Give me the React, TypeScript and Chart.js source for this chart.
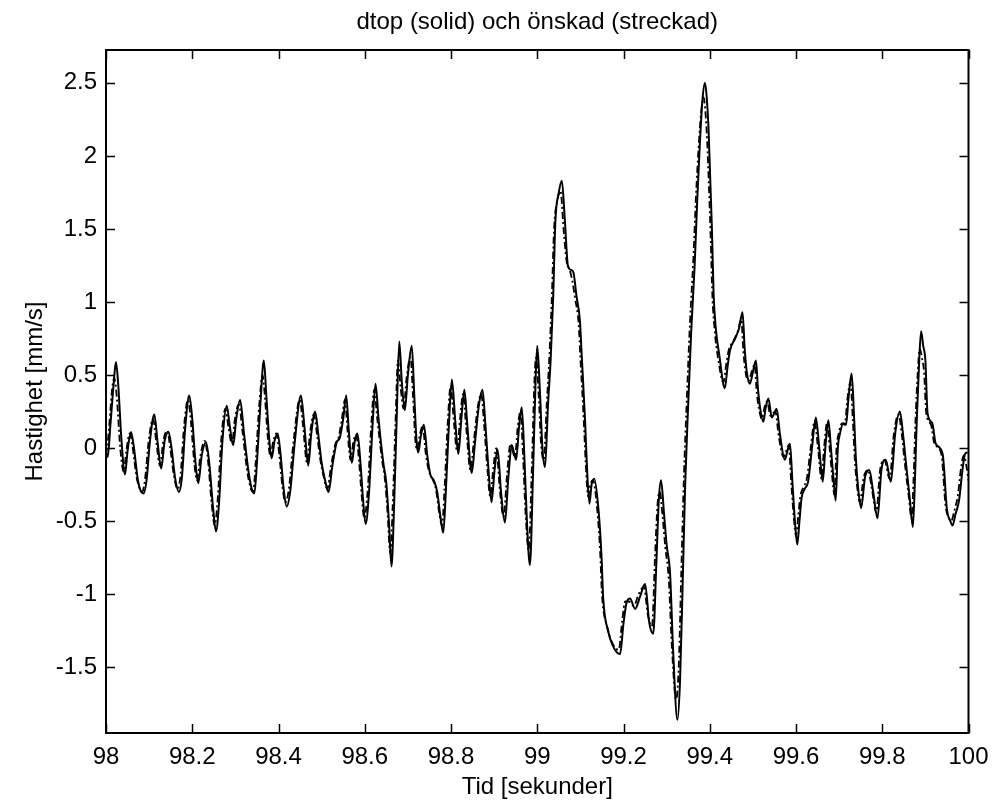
import React, { useEffect, useRef } from "react";
import { Chart, registerables } from "chart.js";

Chart.register(...registerables);

// ---------- data ----------
const solidTime = [
  98.000, 98.004, 98.010, 98.018, 98.023, 98.028, 98.036, 98.044, 98.050, 98.058,
  98.064, 98.074, 98.080, 98.087, 98.094, 98.102, 98.112, 98.120, 98.128, 98.136,
  98.145, 98.152, 98.160, 98.169, 98.176, 98.184, 98.193, 98.200, 98.207, 98.214,
  98.222, 98.232, 98.240, 98.248, 98.255, 98.262, 98.270, 98.280, 98.287, 98.295,
  98.302, 98.311, 98.320, 98.330, 98.338, 98.344, 98.350, 98.358, 98.366, 98.372,
  98.378, 98.384, 98.391, 98.398, 98.405, 98.412, 98.419, 98.427, 98.438, 98.452,
  98.460, 98.469, 98.476, 98.485, 98.492, 98.500, 98.508, 98.516, 98.525, 98.535,
  98.542, 98.550, 98.557, 98.563, 98.570, 98.577, 98.583, 98.590, 98.596, 98.602,
  98.610, 98.618, 98.625, 98.632, 98.643, 98.650, 98.656, 98.662, 98.668, 98.674,
  98.680, 98.686, 98.693, 98.700, 98.709, 98.715, 98.720, 98.724, 98.730, 98.737,
  98.745, 98.752, 98.760, 98.768, 98.776, 98.782, 98.788, 98.795, 98.802, 98.810,
  98.817, 98.824, 98.831, 98.838, 98.848, 98.856, 98.865, 98.873, 98.880, 98.887,
  98.894, 98.901, 98.908, 98.916, 98.925, 98.933, 98.941, 98.946, 98.951, 98.958,
  98.964, 98.970, 98.976, 98.983, 98.990, 98.996, 99.000, 99.006, 99.012, 99.018,
  99.025, 99.031, 99.037, 99.042, 99.050, 99.057, 99.064, 99.071, 99.078, 99.084,
  99.091, 99.099, 99.103, 99.111, 99.115, 99.121, 99.126, 99.132, 99.142, 99.149,
  99.153, 99.165, 99.175, 99.185, 99.192, 99.200, 99.207, 99.215, 99.227, 99.238,
  99.250, 99.260, 99.269, 99.276, 99.282, 99.287, 99.294, 99.300, 99.308, 99.315,
  99.325, 99.331, 99.337, 99.343, 99.350, 99.357, 99.365, 99.371, 99.377, 99.383,
  99.389, 99.393, 99.397, 99.401, 99.405, 99.409, 99.414, 99.422, 99.435, 99.441,
  99.447, 99.459, 99.468, 99.476, 99.481, 99.486, 99.493, 99.500, 99.507, 99.512,
  99.517, 99.524, 99.530, 99.536, 99.544, 99.550, 99.555, 99.563, 99.574, 99.580,
  99.586, 99.592, 99.598, 99.603, 99.608, 99.613, 99.620, 99.628, 99.637, 99.646,
  99.654, 99.662, 99.668, 99.675, 99.681, 99.688, 99.692, 99.697, 99.702, 99.710,
  99.716, 99.722, 99.729, 99.735, 99.739, 99.745, 99.751, 99.760, 99.770, 99.779,
  99.789, 99.798, 99.808, 99.820, 99.830, 99.841, 99.848, 99.856, 99.864, 99.871,
  99.876, 99.880, 99.885, 99.890, 99.895, 99.900, 99.905, 99.916, 99.924, 99.940,
  99.950, 99.958, 99.963, 99.970, 99.978, 99.986, 99.992, 99.998,
];
const solidVel = [
  -0.03, -0.06, 0.15, 0.45, 0.59, 0.45, 0.05, -0.18, -0.02, 0.11,
  0.02, -0.22, -0.29, -0.31, -0.22, 0.05, 0.23, 0.03, -0.14, 0.05,
  0.11, 0.00, -0.20, -0.30, -0.20, 0.15, 0.36, 0.20, -0.08, -0.24,
  -0.05, 0.04, -0.12, -0.40, -0.57, -0.38, 0.05, 0.29, 0.15, 0.02,
  0.20, 0.33, 0.10, -0.15, -0.28, -0.31, -0.10, 0.30, 0.60, 0.35,
  0.08, -0.07, 0.05, 0.10, -0.05, -0.28, -0.40, -0.30, 0.05, 0.36,
  0.15, -0.12, 0.10, 0.25, 0.10, -0.10, -0.22, -0.30, -0.12, 0.04,
  0.07, 0.20, 0.36, 0.12, -0.10, 0.05, 0.10, -0.10, -0.35, -0.52,
  -0.30, 0.15, 0.44, 0.20, -0.10, -0.24, -0.50, -0.81, -0.40, 0.20,
  0.73, 0.45, 0.26, 0.50, 0.70, 0.35, 0.05, -0.03, 0.08, 0.16,
  -0.05, -0.18, -0.22, -0.30, -0.48, -0.58, -0.30, 0.15, 0.47, 0.18,
  -0.04, 0.20, 0.40, 0.15, -0.17, 0.05, 0.30, 0.40, 0.15, -0.15,
  -0.37, -0.15, -0.01, -0.30, -0.51, -0.20, 0.02, -0.03, -0.08, 0.15,
  0.28, -0.05, -0.50, -0.80, -0.20, 0.45, 0.70, 0.40, 0.00, -0.13,
  0.30, 0.60, 1.04, 1.55, 1.75, 1.83, 1.56, 1.25, 1.22, 1.20,
  1.04, 0.87, 0.64, 0.18, -0.11, -0.38, -0.25, -0.21, -0.42, -0.74,
  -1.03, -1.26, -1.35, -1.40, -1.41, -1.20, -1.06, -1.03, -1.10, -1.02,
  -0.93, -1.20, -1.27, -0.80, -0.35, -0.22, -0.45, -0.66, -0.86, -1.38,
  -1.86, -1.60, -0.95, -0.25, 0.30, 0.80, 1.25, 1.70, 2.08, 2.38,
  2.50, 2.40, 2.20, 1.85, 1.50, 1.05, 0.82, 0.64, 0.41, 0.55,
  0.67, 0.75, 0.82, 0.93, 0.68, 0.52, 0.44, 0.52, 0.60, 0.40,
  0.27, 0.18, 0.28, 0.34, 0.21, 0.24, 0.27, 0.09, -0.08, -0.02,
  0.03, -0.25, -0.52, -0.66, -0.50, -0.34, -0.28, -0.23, 0.00, 0.21,
  0.00, -0.23, 0.00, 0.19, 0.00, -0.25, -0.36, 0.00, 0.10, 0.17,
  0.16, 0.35, 0.51, 0.19, -0.08, -0.30, -0.41, -0.20, -0.15, -0.30,
  -0.48, -0.15, -0.08, -0.23, 0.10, 0.25, 0.10, -0.13, -0.35, -0.54,
  -0.20, 0.19, 0.55, 0.80, 0.70, 0.60, 0.24, 0.17, 0.03, -0.04,
  -0.42, -0.50, -0.53, -0.45, -0.36, -0.15, -0.04, -0.03,
];

const dashTime = [
  98.000, 98.006, 98.014, 98.019, 98.025, 98.033, 98.041, 98.047, 98.055, 98.061,
  98.071, 98.077, 98.084, 98.091, 98.099, 98.109, 98.117, 98.125, 98.133, 98.142,
  98.149, 98.157, 98.166, 98.173, 98.181, 98.190, 98.197, 98.204, 98.211, 98.219,
  98.229, 98.237, 98.245, 98.252, 98.259, 98.267, 98.277, 98.284, 98.292, 98.299,
  98.308, 98.317, 98.327, 98.335, 98.341, 98.347, 98.355, 98.363, 98.369, 98.375,
  98.381, 98.388, 98.395, 98.402, 98.409, 98.416, 98.424, 98.435, 98.449, 98.457,
  98.466, 98.473, 98.482, 98.489, 98.497, 98.505, 98.513, 98.522, 98.532, 98.539,
  98.547, 98.554, 98.560, 98.567, 98.574, 98.580, 98.587, 98.593, 98.599, 98.607,
  98.615, 98.622, 98.629, 98.640, 98.647, 98.653, 98.659, 98.665, 98.671, 98.677,
  98.683, 98.690, 98.697, 98.706, 98.712, 98.717, 98.721, 98.727, 98.734, 98.742,
  98.749, 98.757, 98.765, 98.773, 98.779, 98.785, 98.792, 98.799, 98.807, 98.814,
  98.821, 98.828, 98.835, 98.845, 98.853, 98.862, 98.870, 98.877, 98.884, 98.891,
  98.898, 98.905, 98.913, 98.922, 98.930, 98.938, 98.943, 98.948, 98.955, 98.961,
  98.967, 98.973, 98.980, 98.987, 98.993, 98.997, 99.003, 99.009, 99.015, 99.022,
  99.028, 99.034, 99.039, 99.047, 99.054, 99.061, 99.068, 99.075, 99.081, 99.088,
  99.096, 99.100, 99.108, 99.112, 99.118, 99.123, 99.129, 99.139, 99.146, 99.150,
  99.162, 99.172, 99.182, 99.189, 99.197, 99.204, 99.212, 99.224, 99.235, 99.247,
  99.257, 99.266, 99.273, 99.279, 99.284, 99.291, 99.297, 99.305, 99.312, 99.322,
  99.328, 99.334, 99.340, 99.347, 99.354, 99.362, 99.368, 99.374, 99.380, 99.386,
  99.390, 99.394, 99.398, 99.402, 99.406, 99.411, 99.419, 99.432, 99.438, 99.444,
  99.456, 99.465, 99.473, 99.478, 99.483, 99.490, 99.497, 99.504, 99.509, 99.514,
  99.521, 99.527, 99.533, 99.541, 99.547, 99.552, 99.560, 99.571, 99.577, 99.583,
  99.589, 99.595, 99.600, 99.605, 99.610, 99.617, 99.625, 99.634, 99.643, 99.651,
  99.659, 99.665, 99.672, 99.678, 99.685, 99.689, 99.694, 99.699, 99.707, 99.713,
  99.719, 99.726, 99.732, 99.736, 99.742, 99.748, 99.757, 99.767, 99.776, 99.786,
  99.795, 99.805, 99.817, 99.827, 99.838, 99.845, 99.853, 99.861, 99.868, 99.873,
  99.877, 99.882, 99.887, 99.892, 99.897, 99.902, 99.913, 99.921, 99.937, 99.947,
  99.955, 99.960, 99.967, 99.975, 99.983, 99.989, 99.995, 100.000,
];
const dashVel = [
  -0.05, 0.10, 0.40, 0.48, 0.35, 0.00, -0.16, -0.02, 0.10, 0.02,
  -0.20, -0.27, -0.30, -0.20, 0.05, 0.20, 0.03, -0.12, 0.05, 0.12,
  0.00, -0.18, -0.28, -0.18, 0.15, 0.33, 0.18, -0.08, -0.22, -0.05,
  0.05, -0.10, -0.38, -0.53, -0.35, 0.05, 0.27, 0.14, 0.03, 0.20,
  0.30, 0.10, -0.15, -0.27, -0.30, -0.10, 0.28, 0.50, 0.33, 0.08,
  -0.05, 0.05, 0.10, -0.05, -0.26, -0.37, -0.28, 0.05, 0.33, 0.15,
  -0.10, 0.10, 0.23, 0.10, -0.08, -0.20, -0.28, -0.12, 0.03, 0.07,
  0.20, 0.33, 0.12, -0.08, 0.05, 0.09, -0.10, -0.33, -0.48, -0.28,
  0.15, 0.40, 0.20, -0.08, -0.22, -0.45, -0.72, -0.38, 0.15, 0.60,
  0.42, 0.27, 0.48, 0.62, 0.35, 0.07, -0.01, 0.08, 0.15, -0.05,
  -0.16, -0.21, -0.28, -0.45, -0.53, -0.28, 0.15, 0.42, 0.17, -0.02,
  0.20, 0.37, 0.15, -0.15, 0.05, 0.28, 0.37, 0.15, -0.13, -0.33,
  -0.14, 0.00, -0.28, -0.47, -0.18, 0.03, -0.02, -0.06, 0.15, 0.25,
  -0.05, -0.45, -0.70, -0.18, 0.42, 0.62, 0.38, 0.02, -0.08, 0.30,
  0.62, 1.05, 1.50, 1.70, 1.76, 1.50, 1.28, 1.22, 1.15, 1.02,
  0.85, 0.62, 0.18, -0.08, -0.33, -0.25, -0.22, -0.42, -0.72, -1.00,
  -1.22, -1.32, -1.37, -1.38, -1.18, -1.05, -1.05, -1.08, -1.00, -0.95,
  -1.15, -1.22, -0.75, -0.38, -0.30, -0.48, -0.68, -0.90, -1.35, -1.72,
  -1.50, -0.85, -0.20, 0.35, 0.85, 1.30, 1.72, 2.05, 2.30, 2.40,
  2.30, 2.10, 1.80, 1.45, 1.05, 0.82, 0.62, 0.45, 0.57, 0.67,
  0.74, 0.80, 0.88, 0.66, 0.52, 0.46, 0.52, 0.57, 0.38, 0.27,
  0.20, 0.28, 0.32, 0.22, 0.24, 0.25, 0.08, -0.06, -0.02, 0.02,
  -0.24, -0.48, -0.60, -0.47, -0.33, -0.27, -0.21, 0.00, 0.18, 0.00,
  -0.21, 0.00, 0.17, 0.00, -0.23, -0.32, 0.00, 0.10, 0.17, 0.16,
  0.33, 0.45, 0.18, -0.06, -0.27, -0.37, -0.20, -0.15, -0.28, -0.44,
  -0.15, -0.08, -0.21, 0.10, 0.23, 0.10, -0.12, -0.32, -0.48, -0.18,
  0.18, 0.50, 0.68, 0.62, 0.52, 0.24, 0.16, 0.03, -0.04, -0.40,
  -0.48, -0.50, -0.43, -0.33, -0.13, -0.05, -0.12, -0.22,
];

const TITLE = "dtop (solid) och önskad (streckad)";
const X_LABEL = "Tid [sekunder]";
const Y_LABEL = "Hastighet [mm/s]";
const X_MIN = 98;
const X_MAX = 100;
const X_STEP = 0.2;
const Y_MIN = -1.95;
const Y_MAX = 2.725;
const Y_STEP = 0.5;

const FONT = "'Liberation Sans', Arial, Helvetica, sans-serif";
const FS = 24;
const W = 993;
const H = 802;

const fmt = (v: number) => String(parseFloat(v.toFixed(2)));

const framePlugin = {
  id: "matlabFrame",
  afterDatasetsDraw(chart: any) {
    const { ctx, chartArea, scales } = chart;
    const { left, right, top, bottom } = chartArea;
    const x = scales.x;
    const y = scales.y;
    ctx.save();
    ctx.strokeStyle = "#000";
    ctx.lineWidth = 2;
    ctx.strokeRect(left, top, right - left, bottom - top);
    const tl = 9;
    ctx.beginPath();
    x.ticks.forEach((t: any) => {
      const px = Math.round(x.getPixelForValue(t.value)) + 0.5;
      ctx.moveTo(px, bottom);
      ctx.lineTo(px, bottom - tl);
      ctx.moveTo(px, top);
      ctx.lineTo(px, top + tl);
    });
    y.ticks.forEach((t: any) => {
      const py = Math.round(y.getPixelForValue(t.value)) + 0.5;
      ctx.moveTo(left, py);
      ctx.lineTo(left + tl, py);
      ctx.moveTo(right, py);
      ctx.lineTo(right - tl, py);
    });
    ctx.lineWidth = 1.5;
    ctx.stroke();
    // title
    ctx.fillStyle = "#000";
    ctx.font = `${FS}px ${FONT}`;
    ctx.textAlign = "center";
    ctx.textBaseline = "middle";
    ctx.fillText(TITLE, (left + right) / 2, 22);
    ctx.restore();
  },
};

export default function App() {
  const ref = useRef<HTMLCanvasElement | null>(null);

  useEffect(() => {
    document.body.style.margin = "0";
    const canvas = ref.current;
    if (!canvas) return;
    const solid = solidTime.map((t, i) => ({ x: t, y: solidVel[i] }));
    const dashed = dashTime.map((t, i) => ({ x: t, y: dashVel[i] }));
    const chart = new Chart(canvas, {
      type: "line",
      data: {
        datasets: [
          {
            label: "dtop",
            data: solid,
            borderColor: "#000",
            borderWidth: 2,
            pointRadius: 0,
            fill: false,
            cubicInterpolationMode: "monotone",
          },
          {
            label: "önskad",
            data: dashed,
            borderColor: "#000",
            borderWidth: 1.8,
            borderDash: [7, 3, 2, 3],
            pointRadius: 0,
            fill: false,
            cubicInterpolationMode: "monotone",
          },
        ],
      },
      options: {
        animation: false,
        responsive: false,
        maintainAspectRatio: false,
        parsing: false as any,
        layout: { padding: { top: 50, right: 24.5, left: 0, bottom: 0 } },
        plugins: {
          legend: { display: false },
          tooltip: { enabled: false },
          title: { display: false },
        },
        scales: {
          x: {
            type: "linear",
            min: X_MIN,
            max: X_MAX,
            grid: { display: false, drawTicks: false },
            border: { display: false },
            ticks: {
              stepSize: X_STEP,
              includeBounds: false,
              padding: 10,
              color: "#000",
              font: { family: FONT, size: FS },
              maxRotation: 0,
              autoSkip: false,
              callback: (v: any) => fmt(Number(v)),
            },
            title: {
              display: true,
              text: X_LABEL,
              color: "#000",
              font: { family: FONT, size: FS },
              padding: { top: 0, bottom: 0 },
            },
            afterFit: (s: any) => {
              s.height = H - 733;
              s.paddingLeft = 0;
              s.paddingRight = 0;
            },
          },
          y: {
            type: "linear",
            min: Y_MIN,
            max: Y_MAX,
            grid: { display: false, drawTicks: false },
            border: { display: false },
            ticks: {
              stepSize: Y_STEP,
              includeBounds: false,
              padding: 9,
              color: "#000",
              font: { family: FONT, size: FS },
              autoSkip: false,
              callback: (v: any) => fmt(Number(v)),
            },
            title: {
              display: true,
              text: Y_LABEL,
              color: "#000",
              font: { family: FONT, size: FS },
              padding: { top: 21, bottom: 0 },
            },
            afterFit: (s: any) => {
              s.width = 106;
              s.paddingTop = 0;
              s.paddingBottom = 0;
            },
          },
        },
      },
      plugins: [framePlugin],
    });
    return () => chart.destroy();
  }, []);

  return (
    <div style={{ width: W, height: H, background: "#fff" }}>
      <canvas ref={ref} width={W} height={H} style={{ display: "block" }} />
    </div>
  );
}
